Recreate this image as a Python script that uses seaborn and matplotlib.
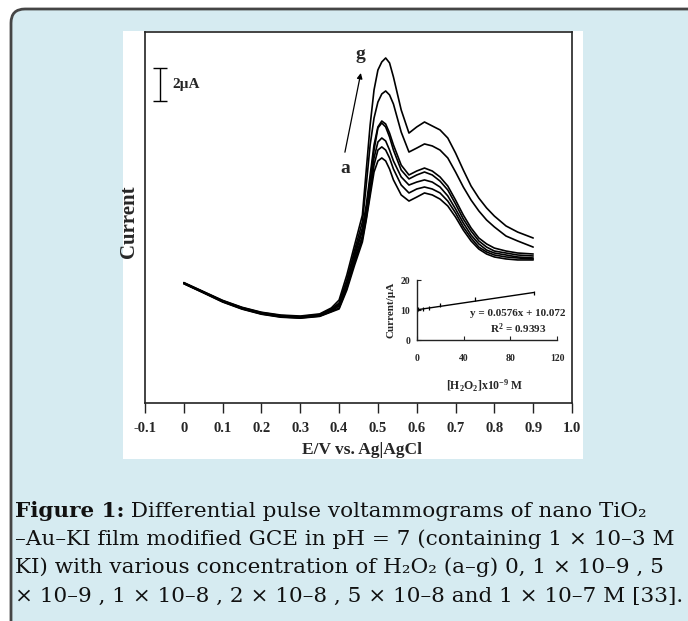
import numpy as np
import pandas as pd
import matplotlib
matplotlib.use("Agg")
import matplotlib.pyplot as plt
import seaborn as sns
from matplotlib.patches import FancyBboxPatch, Rectangle
from matplotlib.transforms import IdentityTransform

# ---------------- data ----------------
E = [0.00, 0.05, 0.10, 0.15, 0.20, 0.25, 0.30, 0.35, 0.38,
     0.40, 0.42, 0.44, 0.46, 0.47, 0.48, 0.49, 0.50, 0.51, 0.52, 0.53, 0.54,
     0.56, 0.58, 0.60, 0.62, 0.64, 0.66, 0.68, 0.70, 0.72, 0.74, 0.76, 0.78,
     0.80, 0.83, 0.86, 0.90]

I_g = [7.30, 6.76, 6.22, 5.80, 5.50, 5.33, 5.27, 5.40, 5.76,
       6.24, 7.76, 9.58, 11.39, 14.12, 16.85, 18.97, 20.18, 20.67, 20.91, 20.61, 19.76,
       17.76, 16.36, 16.73, 17.03, 16.79, 16.55, 16.06, 15.15, 14.12, 13.15, 12.42, 11.82,
       11.33, 10.73, 10.36, 10.00]
I_f = [7.28, 6.74, 6.20, 5.78, 5.48, 5.30, 5.24, 5.36, 5.70,
       6.06, 7.45, 9.27, 10.97, 13.21, 15.64, 17.27, 18.24, 18.73, 18.91, 18.67, 18.12,
       16.42, 15.21, 15.45, 15.70, 15.58, 15.33, 14.85, 14.00, 13.09, 12.30, 11.64, 11.09,
       10.67, 10.12, 9.82, 9.45]
I_e = [7.27, 6.73, 6.18, 5.76, 5.45, 5.27, 5.21, 5.33, 5.66,
       6.00, 7.39, 9.09, 10.61, 12.00, 13.82, 15.64, 16.73, 17.09, 16.91, 16.36, 15.64,
       14.42, 13.82, 14.06, 14.24, 14.06, 13.70, 13.15, 12.30, 11.39, 10.61, 10.00, 9.64,
       9.39, 9.21, 9.09, 9.03]
I_d = [7.26, 6.72, 6.17, 5.75, 5.44, 5.26, 5.20, 5.31, 5.62,
       5.94, 7.27, 8.91, 10.42, 11.70, 13.52, 15.33, 16.67, 16.97, 16.73, 16.12, 15.33,
       14.12, 13.58, 13.82, 14.00, 13.82, 13.45, 12.91, 12.06, 11.15, 10.42, 9.82, 9.45,
       9.21, 9.09, 8.97, 8.91]
I_c = [7.25, 6.71, 6.16, 5.73, 5.42, 5.24, 5.18, 5.29, 5.58,
       5.88, 7.15, 8.73, 10.12, 11.39, 13.03, 14.85, 15.82, 16.06, 15.88, 15.33, 14.67,
       13.70, 13.21, 13.39, 13.52, 13.39, 13.09, 12.55, 11.76, 10.91, 10.18, 9.64, 9.27,
       9.09, 8.97, 8.85, 8.79]
I_b = [7.24, 6.70, 6.14, 5.71, 5.40, 5.22, 5.16, 5.27, 5.55,
       5.76, 6.97, 8.55, 9.94, 11.21, 12.79, 14.42, 15.33, 15.52, 15.33, 14.85, 14.18,
       13.21, 12.73, 12.97, 13.09, 12.97, 12.73, 12.24, 11.52, 10.67, 10.00, 9.45, 9.15,
       8.97, 8.85, 8.79, 8.73]
I_a = [7.23, 6.68, 6.12, 5.69, 5.38, 5.20, 5.14, 5.25, 5.52,
       5.70, 6.85, 8.36, 9.76, 11.09, 12.55, 14.00, 14.67, 14.85, 14.67, 14.18, 13.52,
       12.61, 12.24, 12.48, 12.73, 12.61, 12.36, 11.94, 11.27, 10.48, 9.82, 9.33, 9.03,
       8.85, 8.73, 8.67, 8.67]

curve_labels = ["a", "b", "c", "d", "e", "f", "g"]
curve_values = [I_a, I_b, I_c, I_d, I_e, I_f, I_g]

x_ticks = [-0.1, 0.0, 0.1, 0.2, 0.3, 0.4, 0.5, 0.6, 0.7, 0.8, 0.9, 1.0]
x_ticklabels = ["-0.1", "0", "0.1", "0.2", "0.3", "0.4", "0.5", "0.6", "0.7", "0.8", "0.9", "1.0"]

# inset calibration data
conc = [0, 1, 5, 10, 20, 50, 100]
peak_I = [10.1, 10.2, 10.3, 10.6, 11.8, 13.7, 15.8]
fit_slope = 0.0576
fit_intercept = 10.072
fit_r2 = 0.9393
inset_xticks = [0, 40, 80, 120]
inset_yticks = [0, 10, 20]

scale_bar_uA = 2

caption_lines = [
    " Differential pulse voltammograms of nano TiO\u2082",
    "\u2013Au\u2013KI film modified GCE in pH = 7 (containing 1 \u00d7 10\u20133 M",
    "KI) with various concentration of H\u2082O\u2082 (a\u2013g) 0, 1 \u00d7 10\u20139 , 5",
    "\u00d7 10\u20139 , 1 \u00d7 10\u20138 , 2 \u00d7 10\u20138 , 5 \u00d7 10\u20138 and 1 \u00d7 10\u20137 M [33].",
]

# ---------------- style ----------------
sns.set_theme(style="white")
plt.rcParams["font.family"] = ["Liberation Serif", "DejaVu Serif"]
plt.rcParams["mathtext.fontset"] = "custom"
plt.rcParams["mathtext.rm"] = "Liberation Serif:bold"
plt.rcParams["mathtext.bf"] = "Liberation Serif:bold"
plt.rcParams["mathtext.it"] = "Liberation Serif:bold:italic"

W, H = 688, 621
fig = plt.figure(figsize=(W / 100, H / 100), dpi=100)
fig.patch.set_facecolor("white")

# card background
card = FancyBboxPatch((11, -30), 720, 621 - 9 + 30,
                      boxstyle="round,pad=0,rounding_size=14",
                      transform=IdentityTransform(), facecolor="#d6ebf1",
                      edgecolor="#454545", linewidth=2.0, zorder=-10)
fig.patches.append(card)
white = Rectangle((123, 621 - 459), 460, 428, transform=IdentityTransform(),
                  facecolor="white", edgecolor="none", zorder=-9)
fig.patches.append(white)

def fx(px):
    return px / W

def fy(py):
    return 1 - py / H

# main axes
ax = fig.add_axes([fx(145), fy(403), (572 - 145) / W, (403 - 32) / H])
ax.set_facecolor("none")

rows = []
for lab, vals in zip(curve_labels, curve_values):
    for e, i in zip(E, vals):
        rows.append((lab, e, i))
df = pd.DataFrame(rows, columns=["curve", "E", "I"])
sns.lineplot(data=df, x="E", y="I", hue="curve", palette=["black"] * 7,
             estimator=None, sort=False, legend=False, linewidth=1.2, ax=ax)

ax.set_xlim(-0.1, 1.0)
ax.set_ylim(0, 371 / 16.5)
ax.set_xticks(x_ticks)
ax.set_xticklabels(x_ticklabels, fontweight="bold", fontsize=10.5)
ax.set_yticks([])
ax.tick_params(axis="x", direction="out", length=7.5, width=1.0, pad=6,
               bottom=True, color="#222222")
for s in ax.spines.values():
    s.set_visible(True)
    s.set_color("#222222")
    s.set_linewidth(1.2)
ax.set_xlabel("E/V vs. Ag|AgCl", fontweight="bold", fontsize=12.5)
ax.xaxis.set_label_coords(0.508, -0.127)
ax.xaxis.label.set_va("center")
ax.set_ylabel("Current", fontweight="bold", fontsize=15)
ax.yaxis.set_label_coords(-0.038, 0.49)
ax.yaxis.label.set_va("center")

# arrow a -> g
ax.annotate("", xy=(0.456, 20.0), xytext=(0.415, 15.2),
            arrowprops=dict(arrowstyle="-|>", lw=0.9, color="black",
                            mutation_scale=8, shrinkA=0, shrinkB=0))
ax.text(0.456, 21.1, "g", fontweight="bold", fontsize=14, ha="center", va="center")
ax.text(0.415, 14.2, "a", fontweight="bold", fontsize=14, ha="center", va="center")

# scale bar
ax.errorbar([-0.062], [19.3], yerr=[scale_bar_uA / 2], color="black",
            capsize=5, elinewidth=1.0, capthick=1.0, fmt="none")
ax.text(-0.030, 19.3, f"{scale_bar_uA}\u00b5A", fontweight="bold", fontsize=11,
        ha="left", va="center")

# inset
ins = fig.add_axes([fx(417), fy(340), 140 / W, 60 / H])
ins.set_facecolor("none")
fit_x = [0, 100]
fit_y = [fit_intercept + fit_slope * v for v in fit_x]
sns.lineplot(x=fit_x, y=fit_y, color="black", linewidth=1.0, ax=ins)
sns.scatterplot(x=conc, y=peak_I, marker="|", color="black", s=12,
                linewidth=0.9, ax=ins)
ins.set_xlim(0, 120)
ins.set_ylim(0, 20)
ins.set_xticks(inset_xticks)
ins.set_yticks(inset_yticks)
ins.set_xticklabels([str(v) for v in inset_xticks], fontweight="bold", fontsize=7)
ins.set_yticklabels([str(v) for v in inset_yticks], fontweight="bold", fontsize=7)
ins.tick_params(axis="both", direction="in", length=3, width=0.8, color="#222222",
                bottom=True, left=True)
ins.tick_params(axis="x", pad=10)
ins.tick_params(axis="y", pad=5)
for k in ["top", "right"]:
    ins.spines[k].set_visible(False)
for k in ["left", "bottom"]:
    ins.spines[k].set_color("#222222")
    ins.spines[k].set_linewidth(1.0)
ins.set_ylabel("Current/\u00b5A", fontweight="bold", fontsize=8)
ins.yaxis.set_label_coords(-0.186, 0.5)
ins.yaxis.label.set_va("center")
ins.set_xlabel(r"[H$_2$O$_2$]x10$^{-9}$ M", fontweight="bold", fontsize=8.5)
ins.xaxis.set_label_coords(0.486, -0.77)
ins.xaxis.label.set_va("center")
ins.text(101 / 140 * 120, 9.0, f"y = {fit_slope}x + {fit_intercept}", fontweight="bold",
         fontsize=8, ha="center", va="center")
ins.text(101 / 140 * 120, 3.7, f"R$^2$ = {fit_r2}", fontweight="bold",
         fontsize=8, ha="center", va="center")

# caption
renderer = fig.canvas.get_renderer()
cap_family = ["DejaVu Serif"]
base_fs = 13.0
maxw = 0
for k, line in enumerate(caption_lines):
    txt = ("Figure 1:" + line) if k == 0 else line
    probe = fig.text(0, 0, txt, fontsize=base_fs, family=cap_family)
    maxw = max(maxw, probe.get_window_extent(renderer).width)
    probe.remove()
cap_fs = base_fs * (680 - 15) / maxw
baselines = [517, 545, 573, 602]
t0 = fig.text(fx(15), fy(baselines[0]), "Figure 1:", fontsize=cap_fs,
              family=cap_family, fontweight="bold", va="baseline", color="#111111")
bw = t0.get_window_extent(renderer).width
fig.text(fx(15 + bw), fy(baselines[0]), caption_lines[0], fontsize=cap_fs,
         family=cap_family, va="baseline", color="#111111")
for line, b in zip(caption_lines[1:], baselines[1:]):
    fig.text(fx(15), fy(b), line, fontsize=cap_fs, family=cap_family,
             va="baseline", color="#111111")

fig.savefig("out.png", dpi=100)
